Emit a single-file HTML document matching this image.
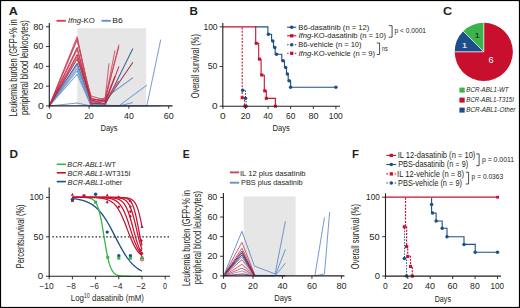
<!DOCTYPE html>
<html><head><meta charset="utf-8"><style>
html,body{margin:0;padding:0;background:#fff;overflow:hidden;}
svg{display:block;font-family:"Liberation Sans", sans-serif;}
</style></head><body>
<svg width="520" height="308" viewBox="0 0 520 308">
<rect x="0" y="0" width="520" height="308" fill="#fff"/>
<rect x="77.3" y="28.2" width="68.9" height="77.70" fill="#e6e6e6"/>
<line x1="56.50" y1="20.80" x2="65.80" y2="20.80" stroke="#d0435a" stroke-width="1.9"/>
<line x1="101.50" y1="20.80" x2="110.80" y2="20.80" stroke="#6590cb" stroke-width="1.9"/>
<polyline points="49.30,105.90 77.16,63.37 91.09,102.93 105.02,104.91 132.88,48.54" fill="none" stroke="#1c4f89" stroke-width="1.05" stroke-linejoin="round" stroke-opacity="0.85"/>
<polyline points="49.30,105.90 77.16,65.35 91.09,104.91 105.02,97.99 132.88,77.71" fill="none" stroke="#6590cb" stroke-width="1.05" stroke-linejoin="round" stroke-opacity="0.85"/>
<polyline points="49.30,105.90 77.16,68.32 91.09,103.92 118.95,105.90 146.81,85.13" fill="none" stroke="#6590cb" stroke-width="1.05" stroke-linejoin="round" stroke-opacity="0.85"/>
<polyline points="49.30,105.90 77.16,70.79 91.09,105.90 118.95,105.90 132.88,102.44" fill="none" stroke="#6590cb" stroke-width="1.05" stroke-linejoin="round" stroke-opacity="0.85"/>
<polyline points="49.30,105.90 77.16,74.25 91.09,105.90 146.81,105.90 160.74,39.64" fill="none" stroke="#6590cb" stroke-width="1.05" stroke-linejoin="round" stroke-opacity="0.85"/>
<polyline points="49.30,105.90 77.16,102.93 91.09,105.90 160.74,105.90" fill="none" stroke="#6590cb" stroke-width="1.05" stroke-linejoin="round" stroke-opacity="0.85"/>
<polyline points="49.30,105.90 77.16,36.67 91.09,102.93 105.02,100.96 118.95,44.58" fill="none" stroke="#d0435a" stroke-width="1.05" stroke-linejoin="round" stroke-opacity="0.85"/>
<polyline points="49.30,105.90 77.16,38.65 91.09,100.96 105.02,97.99 118.95,46.56" fill="none" stroke="#d0435a" stroke-width="1.05" stroke-linejoin="round" stroke-opacity="0.85"/>
<polyline points="49.30,105.90 77.16,40.13 91.09,97.99 105.02,101.94 114.97,50.52" fill="none" stroke="#d0435a" stroke-width="1.05" stroke-linejoin="round" stroke-opacity="0.85"/>
<polyline points="49.30,105.90 77.16,47.55 91.09,103.92 105.02,102.93 132.88,62.38" fill="none" stroke="#8a2a4a" stroke-width="1.05" stroke-linejoin="round" stroke-opacity="0.85"/>
<polyline points="49.30,105.90 77.16,49.53 91.09,96.01 105.02,99.97 109.00,63.37" fill="none" stroke="#d0435a" stroke-width="1.05" stroke-linejoin="round" stroke-opacity="0.85"/>
<polyline points="49.30,105.90 77.16,54.47 91.09,99.97 105.02,103.92 118.95,66.34" fill="none" stroke="#c8102e" stroke-width="1.05" stroke-linejoin="round" stroke-opacity="0.85"/>
<polyline points="49.30,105.90 77.16,56.45 91.09,101.94 105.02,99.97 118.95,81.18" fill="none" stroke="#d0435a" stroke-width="1.05" stroke-linejoin="round" stroke-opacity="0.85"/>
<polyline points="49.30,105.90 77.16,58.92 91.09,98.98 105.02,100.96 114.97,76.23" fill="none" stroke="#b0203a" stroke-width="1.05" stroke-linejoin="round" stroke-opacity="0.85"/>
<line x1="49.30" y1="22.90" x2="49.30" y2="106.50" stroke="#231f20" stroke-width="1.1"/>
<line x1="48.80" y1="105.90" x2="172.60" y2="105.90" stroke="#231f20" stroke-width="1.1"/>
<line x1="46.00" y1="105.90" x2="49.30" y2="105.90" stroke="#231f20" stroke-width="0.9"/>
<line x1="46.00" y1="86.12" x2="49.30" y2="86.12" stroke="#231f20" stroke-width="0.9"/>
<line x1="46.00" y1="66.34" x2="49.30" y2="66.34" stroke="#231f20" stroke-width="0.9"/>
<line x1="46.00" y1="46.56" x2="49.30" y2="46.56" stroke="#231f20" stroke-width="0.9"/>
<line x1="46.00" y1="26.78" x2="49.30" y2="26.78" stroke="#231f20" stroke-width="0.9"/>
<line x1="49.30" y1="105.90" x2="49.30" y2="108.70" stroke="#231f20" stroke-width="0.9"/>
<line x1="89.10" y1="105.90" x2="89.10" y2="108.70" stroke="#231f20" stroke-width="0.9"/>
<line x1="128.90" y1="105.90" x2="128.90" y2="108.70" stroke="#231f20" stroke-width="0.9"/>
<line x1="168.70" y1="105.90" x2="168.70" y2="108.70" stroke="#231f20" stroke-width="0.9"/>
<text x="8.82" y="15.00" font-size="10.8" font-weight="bold" font-style="normal" fill="#231f20" textLength="9.09" lengthAdjust="spacingAndGlyphs">A</text>
<text x="68.12" y="23.40" font-size="8.0" font-weight="normal" font-style="normal" fill="#231f20" textLength="26.56" lengthAdjust="spacingAndGlyphs"><tspan font-style="italic">Ifng</tspan>-KO</text>
<text x="112.32" y="23.40" font-size="8.0" font-weight="normal" font-style="normal" fill="#231f20" textLength="10.52" lengthAdjust="spacingAndGlyphs">B6</text>
<text x="38.02" y="108.75" font-size="8.2" font-weight="normal" font-style="normal" fill="#231f20" textLength="5.87" lengthAdjust="spacingAndGlyphs">0</text>
<text x="33.22" y="88.97" font-size="8.2" font-weight="normal" font-style="normal" fill="#231f20" textLength="10.27" lengthAdjust="spacingAndGlyphs">20</text>
<text x="33.21" y="69.19" font-size="8.2" font-weight="normal" font-style="normal" fill="#231f20" textLength="10.28" lengthAdjust="spacingAndGlyphs">40</text>
<text x="33.18" y="49.41" font-size="8.2" font-weight="normal" font-style="normal" fill="#231f20" textLength="10.31" lengthAdjust="spacingAndGlyphs">60</text>
<text x="33.18" y="29.63" font-size="8.2" font-weight="normal" font-style="normal" fill="#231f20" textLength="10.31" lengthAdjust="spacingAndGlyphs">80</text>
<text x="46.25" y="118.50" font-size="8.2" font-weight="normal" font-style="normal" fill="#231f20" textLength="5.59" lengthAdjust="spacingAndGlyphs">0</text>
<text x="84.30" y="118.50" font-size="8.2" font-weight="normal" font-style="normal" fill="#231f20" textLength="9.43" lengthAdjust="spacingAndGlyphs">20</text>
<text x="124.09" y="118.50" font-size="8.2" font-weight="normal" font-style="normal" fill="#231f20" textLength="9.74" lengthAdjust="spacingAndGlyphs">40</text>
<text x="163.77" y="118.50" font-size="8.2" font-weight="normal" font-style="normal" fill="#231f20" textLength="9.94" lengthAdjust="spacingAndGlyphs">60</text>
<text x="100.46" y="131.10" font-size="9.6" font-weight="normal" font-style="normal" fill="#231f20" textLength="17.19" lengthAdjust="spacingAndGlyphs">Days</text>
<text x="0" y="0" font-size="10.5" fill="#231f20" textLength="97.08" lengthAdjust="spacingAndGlyphs" transform="matrix(0,-1,1,0,17.10,116.39)">Leukemia burden (GFP+% in</text>
<text x="0" y="0" font-size="10.5" fill="#231f20" textLength="94.90" lengthAdjust="spacingAndGlyphs" transform="matrix(0,-1,1,0,28.20,115.09)">peripheral blood leukocytes)</text>
<path d="M242.9,90.2 H245.5 V98.2 H246.1 V106.2" fill="none" stroke="#1c4f89" stroke-width="1.0" stroke-dasharray="1.5,1.3"/>
<path d="M242.2,27.45 V97.7 H244.6 V106.2" fill="none" stroke="#c8102e" stroke-width="1.1" stroke-dasharray="2.0,1.4"/>
<path d="M255.0,26.85 H267.9 V34.3 H271.6 V40.9 H273.5 V47.6 H275.2 V54.2 H281.8 V60.8 H284.5 V67.5 H286.5 V74.1 H288.2 V80.7 H290.6 V87.3 H335.90" fill="none" stroke="#1c4f89" stroke-width="1.1"/>
<path d="M222.90,26.85 H255.7 V43.4 H258.7 V59.3 H261.1 V75.2 H264.3 V91.1 H266.3 V98.4 H275.4 V106.2" fill="none" stroke="#c8102e" stroke-width="1.1"/>
<circle cx="268.40" cy="34.30" r="1.75" fill="#1c4f89"/>
<circle cx="272.80" cy="40.90" r="1.75" fill="#1c4f89"/>
<circle cx="274.80" cy="47.60" r="1.75" fill="#1c4f89"/>
<circle cx="276.50" cy="54.20" r="1.75" fill="#1c4f89"/>
<circle cx="283.00" cy="60.80" r="1.75" fill="#1c4f89"/>
<circle cx="285.70" cy="67.50" r="1.75" fill="#1c4f89"/>
<circle cx="287.40" cy="74.10" r="1.75" fill="#1c4f89"/>
<circle cx="289.10" cy="80.70" r="1.75" fill="#1c4f89"/>
<circle cx="290.60" cy="87.30" r="1.75" fill="#1c4f89"/>
<circle cx="335.90" cy="87.30" r="1.75" fill="#1c4f89"/>
<rect x="254.65" y="41.75" width="3.1" height="3.1" fill="#c8102e"/>
<rect x="257.85" y="57.55" width="3.1" height="3.1" fill="#c8102e"/>
<rect x="260.25" y="73.45" width="3.1" height="3.1" fill="#c8102e"/>
<rect x="263.25" y="89.25" width="3.1" height="3.1" fill="#c8102e"/>
<rect x="264.75" y="96.75" width="3.1" height="3.1" fill="#c8102e"/>
<rect x="273.85" y="104.65" width="3.1" height="3.1" fill="#c8102e"/>
<circle cx="242.70" cy="90.20" r="1.75" fill="#1c4f89"/>
<circle cx="245.50" cy="98.20" r="1.75" fill="#1c4f89"/>
<circle cx="246.10" cy="106.20" r="1.75" fill="#1c4f89"/>
<rect x="240.65" y="96.15" width="3.1" height="3.1" fill="#c8102e"/>
<rect x="243.45" y="104.65" width="3.1" height="3.1" fill="#c8102e"/>
<line x1="222.80" y1="22.90" x2="222.80" y2="106.80" stroke="#231f20" stroke-width="1.1"/>
<line x1="222.30" y1="106.20" x2="340.00" y2="106.20" stroke="#231f20" stroke-width="1.1"/>
<line x1="219.60" y1="106.20" x2="222.80" y2="106.20" stroke="#231f20" stroke-width="0.9"/>
<line x1="219.60" y1="66.53" x2="222.80" y2="66.53" stroke="#231f20" stroke-width="0.9"/>
<line x1="219.60" y1="26.85" x2="222.80" y2="26.85" stroke="#231f20" stroke-width="0.9"/>
<line x1="222.90" y1="106.20" x2="222.90" y2="109.00" stroke="#231f20" stroke-width="0.9"/>
<line x1="245.50" y1="106.20" x2="245.50" y2="109.00" stroke="#231f20" stroke-width="0.9"/>
<line x1="268.10" y1="106.20" x2="268.10" y2="109.00" stroke="#231f20" stroke-width="0.9"/>
<line x1="290.70" y1="106.20" x2="290.70" y2="109.00" stroke="#231f20" stroke-width="0.9"/>
<line x1="313.30" y1="106.20" x2="313.30" y2="109.00" stroke="#231f20" stroke-width="0.9"/>
<line x1="335.90" y1="106.20" x2="335.90" y2="109.00" stroke="#231f20" stroke-width="0.9"/>
<line x1="287.10" y1="27.20" x2="296.30" y2="27.20" stroke="#1c4f89" stroke-width="1.1"/>
<circle cx="291.70" cy="27.20" r="1.8" fill="#1c4f89"/>
<line x1="287.10" y1="35.80" x2="296.30" y2="35.80" stroke="#c8102e" stroke-width="1.1"/>
<rect x="290.05" y="34.15" width="3.3" height="3.3" fill="#c8102e"/>
<line x1="287.10" y1="44.70" x2="288.60" y2="44.70" stroke="#1c4f89" stroke-width="1.1"/>
<line x1="294.80" y1="44.70" x2="296.30" y2="44.70" stroke="#1c4f89" stroke-width="1.1"/>
<circle cx="291.70" cy="44.70" r="1.8" fill="#1c4f89"/>
<line x1="287.10" y1="53.30" x2="288.60" y2="53.30" stroke="#c8102e" stroke-width="1.1"/>
<line x1="294.80" y1="53.30" x2="296.30" y2="53.30" stroke="#c8102e" stroke-width="1.1"/>
<rect x="290.05" y="51.65" width="3.3" height="3.3" fill="#c8102e"/>
<path d="M388.8,25.7 H392.1 V37.2 H388.8" fill="none" stroke="#231f20" stroke-width="0.8"/>
<path d="M376.8,43.0 H379.6 V54.5 H376.8" fill="none" stroke="#231f20" stroke-width="0.8"/>
<text x="189.41" y="15.00" font-size="10.8" font-weight="bold" font-style="normal" fill="#231f20" textLength="8.42" lengthAdjust="spacingAndGlyphs">B</text>
<text x="212.08" y="109.05" font-size="8.2" font-weight="normal" font-style="normal" fill="#231f20" textLength="5.57" lengthAdjust="spacingAndGlyphs">0</text>
<text x="207.75" y="69.38" font-size="8.2" font-weight="normal" font-style="normal" fill="#231f20" textLength="9.63" lengthAdjust="spacingAndGlyphs">50</text>
<text x="203.49" y="29.70" font-size="8.2" font-weight="normal" font-style="normal" fill="#231f20" textLength="14.09" lengthAdjust="spacingAndGlyphs">100</text>
<text x="220.01" y="118.90" font-size="8.2" font-weight="normal" font-style="normal" fill="#231f20" textLength="5.61" lengthAdjust="spacingAndGlyphs">0</text>
<text x="240.75" y="118.90" font-size="8.2" font-weight="normal" font-style="normal" fill="#231f20" textLength="9.71" lengthAdjust="spacingAndGlyphs">20</text>
<text x="263.21" y="118.90" font-size="8.2" font-weight="normal" font-style="normal" fill="#231f20" textLength="9.47" lengthAdjust="spacingAndGlyphs">40</text>
<text x="285.98" y="118.90" font-size="8.2" font-weight="normal" font-style="normal" fill="#231f20" textLength="9.35" lengthAdjust="spacingAndGlyphs">60</text>
<text x="308.58" y="118.90" font-size="8.2" font-weight="normal" font-style="normal" fill="#231f20" textLength="10.08" lengthAdjust="spacingAndGlyphs">80</text>
<text x="328.69" y="118.90" font-size="8.2" font-weight="normal" font-style="normal" fill="#231f20" textLength="14.16" lengthAdjust="spacingAndGlyphs">100</text>
<text x="272.52" y="130.60" font-size="9.6" font-weight="normal" font-style="normal" fill="#231f20" textLength="17.32" lengthAdjust="spacingAndGlyphs">Days</text>
<text x="0" y="0" font-size="10.5" fill="#231f20" textLength="64.07" lengthAdjust="spacingAndGlyphs" transform="matrix(0,-1,1,0,198.70,98.21)">Overall survival (%)</text>
<text x="298.30" y="29.60" font-size="8.0" font-weight="normal" font-style="normal" fill="#231f20" textLength="71.08" lengthAdjust="spacingAndGlyphs">B6-dasatinib (n = 12)</text>
<text x="298.50" y="38.30" font-size="8.0" font-weight="normal" font-style="normal" fill="#231f20" textLength="87.57" lengthAdjust="spacingAndGlyphs"><tspan font-style="italic">Ifng</tspan>-KO-dasatinib (n = 10)</text>
<text x="298.14" y="47.20" font-size="8.0" font-weight="normal" font-style="normal" fill="#231f20" textLength="63.43" lengthAdjust="spacingAndGlyphs">B6-vehicle (n = 10)</text>
<text x="298.50" y="55.90" font-size="8.0" font-weight="normal" font-style="normal" fill="#231f20" textLength="76.58" lengthAdjust="spacingAndGlyphs"><tspan font-style="italic">Ifng</tspan>-KO-vehicle (n = 9)</text>
<text x="394.44" y="33.40" font-size="6.3" font-weight="normal" font-style="normal" fill="#231f20" textLength="31.65" lengthAdjust="spacingAndGlyphs">p &lt; 0.0001</text>
<text x="382.05" y="51.10" font-size="6.3" font-weight="normal" font-style="normal" fill="#231f20" textLength="5.73" lengthAdjust="spacingAndGlyphs">ns</text>
<path d="M483.8,51.85 L454.70,51.85 A29.1,29.1 0 1 0 483.80,22.75 Z" fill="#c8102e"/>
<path d="M483.8,51.85 L483.80,22.75 A29.1,29.1 0 0 0 463.22,31.27 Z" fill="#3bb54a"/>
<path d="M483.8,51.85 L463.22,31.27 A29.1,29.1 0 0 0 454.70,51.85 Z" fill="#1c4f89"/>
<line x1="483.80" y1="51.85" x2="483.80" y2="22.75" stroke="#ffffff" stroke-width="0.7"/>
<line x1="483.80" y1="51.85" x2="463.22" y2="31.27" stroke="#ffffff" stroke-width="0.7"/>
<line x1="483.80" y1="51.85" x2="454.70" y2="51.85" stroke="#ffffff" stroke-width="0.7"/>
<rect x="459.4" y="87.6" width="5.3" height="5.0" fill="#3bb54a"/>
<rect x="459.4" y="97.6" width="5.3" height="5.0" fill="#c8102e"/>
<rect x="459.4" y="107.6" width="5.3" height="5.0" fill="#1c4f89"/>
<text x="442.98" y="15.00" font-size="10.8" font-weight="bold" font-style="normal" fill="#231f20" textLength="9.09" lengthAdjust="spacingAndGlyphs">C</text>
<text x="474.25" y="37.60" font-size="7.8" font-weight="normal" font-style="normal" fill="#231f20" textLength="5.95" lengthAdjust="spacingAndGlyphs">1</text>
<text x="461.72" y="47.80" font-size="7.8" font-weight="normal" font-style="normal" fill="#ffffff" textLength="5.63" lengthAdjust="spacingAndGlyphs">1</text>
<text x="488.49" y="63.40" font-size="8.4" font-weight="normal" font-style="normal" fill="#ffffff" textLength="5.06" lengthAdjust="spacingAndGlyphs">6</text>
<text x="466.37" y="92.30" font-size="6.8" font-weight="normal" font-style="italic" fill="#231f20" textLength="42.31" lengthAdjust="spacingAndGlyphs">BCR-ABL1-WT</text>
<text x="466.37" y="102.30" font-size="6.8" font-weight="normal" font-style="italic" fill="#231f20" textLength="47.61" lengthAdjust="spacingAndGlyphs">BCR-ABL1-T315I</text>
<text x="466.19" y="112.30" font-size="6.8" font-weight="normal" font-style="italic" fill="#231f20" textLength="49.25" lengthAdjust="spacingAndGlyphs">BCR-ABL1-Other</text>
<line x1="56.75" y1="164.30" x2="65.90" y2="164.30" stroke="#3bb54a" stroke-width="1.6"/>
<line x1="56.75" y1="172.80" x2="65.90" y2="172.80" stroke="#c8102e" stroke-width="1.6"/>
<line x1="56.75" y1="181.60" x2="65.90" y2="181.60" stroke="#1c4f89" stroke-width="1.6"/>
<line x1="52.30" y1="236.85" x2="170.00" y2="236.85" stroke="#231f20" stroke-width="1.15" stroke-dasharray="1.5,2.1"/>
<polyline points="72.40,198.50 73.56,198.63 74.72,198.78 75.88,198.94 77.04,199.13 78.20,199.33 79.36,199.56 80.52,199.82 81.68,200.10 82.84,200.42 84.00,200.77 85.16,201.17 86.32,201.60 87.48,202.08 88.64,202.62 89.80,203.21 90.96,203.86 92.12,204.57 93.28,205.36 94.44,206.22 95.60,207.17 96.76,208.19 97.92,209.31 99.08,210.52 100.24,211.83 101.40,213.24 102.56,214.75 103.72,216.36 104.88,218.06 106.04,219.87 107.20,221.76 108.36,223.74 109.52,225.80 110.68,227.92 111.84,230.10 113.00,232.33 114.16,234.58 115.32,236.85 116.48,239.12 117.64,241.37 118.80,243.60 119.96,245.78 121.12,247.90 122.28,249.96 123.44,251.94 124.60,253.83 125.76,255.64 126.92,257.34 128.08,258.95 129.24,260.46 130.40,261.87 131.56,263.18 132.72,264.39 133.88,265.51 135.04,266.53 136.20,267.48 137.36,268.34 138.52,269.13 139.68,269.84 140.84,270.49 142.00,271.08" fill="none" stroke="#1c4f89" stroke-width="1.3" stroke-linejoin="round"/>
<polyline points="84.00,197.53 84.97,197.58 85.93,197.65 86.90,197.74 87.87,197.86 88.83,198.02 89.80,198.24 90.77,198.54 91.73,198.94 92.70,199.48 93.67,200.20 94.63,201.15 95.60,202.42 96.57,204.07 97.53,206.20 98.50,208.90 99.47,212.25 100.43,216.31 101.40,221.07 102.37,226.44 103.33,232.27 104.30,238.30 105.27,244.27 106.23,249.90 107.20,255.00 108.17,259.43 109.13,263.14 110.10,266.17 111.07,268.59 112.03,270.48 113.00,271.93 113.97,273.04 114.93,273.87 115.90,274.50 116.87,274.97 117.83,275.32 118.80,275.57 119.77,275.76 120.73,275.91 121.70,276.01 122.67,276.09 123.63,276.14 124.60,276.18 125.57,276.21 126.53,276.24 127.50,276.25 128.47,276.27 129.43,276.27 130.40,276.28 131.37,276.29 132.33,276.29 133.30,276.29 134.27,276.29 135.23,276.30 136.20,276.30 137.17,276.30 138.13,276.30 139.10,276.30 140.07,276.30 141.03,276.30 142.00,276.30" fill="none" stroke="#3bb54a" stroke-width="1.3" stroke-linejoin="round"/>
<polyline points="72.40,197.41 73.56,197.41 74.72,197.41 75.88,197.41 77.04,197.41 78.20,197.42 79.36,197.42 80.52,197.43 81.68,197.43 82.84,197.44 84.00,197.45 85.16,197.46 86.32,197.47 87.48,197.48 88.64,197.50 89.80,197.52 90.96,197.55 92.12,197.58 93.28,197.62 94.44,197.67 95.60,197.73 96.76,197.80 97.92,197.88 99.08,197.98 100.24,198.10 101.40,198.25 102.56,198.43 103.72,198.64 104.88,198.90 106.04,199.21 107.20,199.59 108.36,200.04 109.52,200.57 110.68,201.21 111.84,201.96 113.00,202.85 114.16,203.89 115.32,205.11 116.48,206.51 117.64,208.13 118.80,209.96 119.96,212.02 121.12,214.30 122.28,216.80 123.44,219.49 124.60,222.34 125.76,225.31 126.92,228.35 128.08,231.40 129.24,234.40 130.40,237.30 131.56,240.06 132.72,242.64 133.88,245.01 135.04,247.16 136.20,249.09 137.36,250.79 138.52,252.28 139.68,253.57 140.84,254.68 142.00,255.62" fill="none" stroke="#c8102e" stroke-width="1.25" stroke-linejoin="round"/>
<polyline points="72.40,197.40 73.56,197.40 74.72,197.40 75.88,197.40 77.04,197.40 78.20,197.40 79.36,197.40 80.52,197.40 81.68,197.40 82.84,197.41 84.00,197.41 85.16,197.41 86.32,197.41 87.48,197.41 88.64,197.42 89.80,197.42 90.96,197.43 92.12,197.43 93.28,197.44 94.44,197.45 95.60,197.46 96.76,197.48 97.92,197.50 99.08,197.53 100.24,197.56 101.40,197.60 102.56,197.65 103.72,197.71 104.88,197.80 106.04,197.90 107.20,198.02 108.36,198.18 109.52,198.38 110.68,198.63 111.84,198.95 113.00,199.33 114.16,199.82 115.32,200.41 116.48,201.15 117.64,202.04 118.80,203.14 119.96,204.46 121.12,206.04 122.28,207.90 123.44,210.07 124.60,212.56 125.76,215.37 126.92,218.47 128.08,221.82 129.24,225.34 130.40,228.96 131.56,232.58 132.72,236.10 133.88,239.45 135.04,242.55 136.20,245.36 137.36,247.85 138.52,250.02 139.68,251.88 140.84,253.46 142.00,254.78" fill="none" stroke="#c8102e" stroke-width="1.25" stroke-linejoin="round"/>
<polyline points="72.40,197.40 73.56,197.40 74.72,197.40 75.88,197.40 77.04,197.40 78.20,197.40 79.36,197.40 80.52,197.40 81.68,197.40 82.84,197.40 84.00,197.40 85.16,197.40 86.32,197.40 87.48,197.40 88.64,197.40 89.80,197.40 90.96,197.40 92.12,197.40 93.28,197.40 94.44,197.41 95.60,197.41 96.76,197.41 97.92,197.41 99.08,197.42 100.24,197.42 101.40,197.43 102.56,197.44 103.72,197.45 104.88,197.47 106.04,197.50 107.20,197.53 108.36,197.57 109.52,197.62 110.68,197.69 111.84,197.78 113.00,197.90 114.16,198.05 115.32,198.26 116.48,198.53 117.64,198.88 118.80,199.33 119.96,199.93 121.12,200.69 122.28,201.66 123.44,202.90 124.60,204.46 125.76,206.38 126.92,208.73 128.08,211.53 129.24,214.79 130.40,218.47 131.56,222.51 132.72,226.78 133.88,231.14 135.04,235.41 136.20,239.45 137.36,243.13 138.52,246.39 139.68,249.19 140.84,251.54 142.00,253.46" fill="none" stroke="#c8102e" stroke-width="1.25" stroke-linejoin="round"/>
<polyline points="72.40,197.40 73.56,197.40 74.72,197.40 75.88,197.40 77.04,197.40 78.20,197.40 79.36,197.40 80.52,197.40 81.68,197.40 82.84,197.40 84.00,197.40 85.16,197.40 86.32,197.40 87.48,197.40 88.64,197.40 89.80,197.40 90.96,197.40 92.12,197.40 93.28,197.40 94.44,197.40 95.60,197.40 96.76,197.40 97.92,197.40 99.08,197.40 100.24,197.40 101.40,197.40 102.56,197.41 103.72,197.41 104.88,197.41 106.04,197.41 107.20,197.42 108.36,197.43 109.52,197.44 110.68,197.45 111.84,197.47 113.00,197.50 114.16,197.54 115.32,197.59 116.48,197.66 117.64,197.75 118.80,197.88 119.96,198.06 121.12,198.31 122.28,198.65 123.44,199.10 124.60,199.72 125.76,200.56 126.92,201.67 128.08,203.13 129.24,205.03 130.40,207.45 131.56,210.45 132.72,214.08 133.88,218.29 135.04,222.97 136.20,227.95 137.36,232.98 138.52,237.81 139.68,242.23 140.84,246.09 142.00,249.34" fill="none" stroke="#c8102e" stroke-width="1.25" stroke-linejoin="round"/>
<polyline points="72.40,197.40 73.56,197.40 74.72,197.40 75.88,197.40 77.04,197.40 78.20,197.40 79.36,197.40 80.52,197.40 81.68,197.40 82.84,197.40 84.00,197.40 85.16,197.40 86.32,197.40 87.48,197.40 88.64,197.40 89.80,197.40 90.96,197.40 92.12,197.40 93.28,197.40 94.44,197.40 95.60,197.40 96.76,197.40 97.92,197.40 99.08,197.40 100.24,197.40 101.40,197.40 102.56,197.40 103.72,197.40 104.88,197.40 106.04,197.40 107.20,197.40 108.36,197.40 109.52,197.40 110.68,197.41 111.84,197.41 113.00,197.41 114.16,197.42 115.32,197.43 116.48,197.44 117.64,197.45 118.80,197.48 119.96,197.52 121.12,197.58 122.28,197.66 123.44,197.79 124.60,197.97 125.76,198.24 126.92,198.63 128.08,199.21 129.24,200.04 130.40,201.23 131.56,202.90 132.72,205.21 133.88,208.31 135.04,212.30 136.20,217.20 137.36,222.86 138.52,228.96 139.68,235.06 140.84,240.72 142.00,245.62" fill="none" stroke="#c8102e" stroke-width="1.25" stroke-linejoin="round"/>
<polyline points="72.40,197.40 73.56,197.40 74.72,197.40 75.88,197.40 77.04,197.40 78.20,197.40 79.36,197.40 80.52,197.40 81.68,197.40 82.84,197.40 84.00,197.40 85.16,197.40 86.32,197.40 87.48,197.40 88.64,197.40 89.80,197.40 90.96,197.40 92.12,197.40 93.28,197.40 94.44,197.40 95.60,197.40 96.76,197.40 97.92,197.40 99.08,197.40 100.24,197.40 101.40,197.40 102.56,197.40 103.72,197.40 104.88,197.40 106.04,197.40 107.20,197.40 108.36,197.40 109.52,197.40 110.68,197.40 111.84,197.41 113.00,197.41 114.16,197.41 115.32,197.42 116.48,197.42 117.64,197.43 118.80,197.45 119.96,197.47 121.12,197.49 122.28,197.53 123.44,197.59 124.60,197.66 125.76,197.77 126.92,197.92 128.08,198.14 129.24,198.44 130.40,198.86 131.56,199.44 132.72,200.26 133.88,201.38 135.04,202.90 136.20,204.96 137.36,207.67 138.52,211.17 139.68,215.54 140.84,220.80 142.00,226.85" fill="none" stroke="#c8102e" stroke-width="1.2" stroke-linejoin="round"/>
<path d="M70.80,195.68 L74.00,195.68 L72.40,192.80 Z" fill="#c8102e"/>
<path d="M105.60,196.47 L108.80,196.47 L107.20,193.59 Z" fill="#c8102e"/>
<path d="M117.20,198.05 L120.40,198.05 L118.80,195.17 Z" fill="#c8102e"/>
<path d="M140.40,228.03 L143.60,228.03 L142.00,225.15 Z" fill="#c8102e"/>
<path d="M128.90,201.91 L131.90,201.91 L130.40,199.21 Z" fill="#c8102e"/>
<rect x="82.50" y="194.32" width="3.0" height="3.0" fill="#c8102e"/>
<rect x="71.00" y="199.16" width="2.8" height="2.8" fill="#c8102e"/>
<path d="M105.70,202.13 L107.20,200.43 L108.70,202.13 L107.20,203.83 Z" fill="#c8102e"/>
<path d="M117.30,206.87 L118.80,205.17 L120.30,206.87 L118.80,208.57 Z" fill="#c8102e"/>
<path d="M128.90,206.87 L130.40,205.17 L131.90,206.87 L130.40,208.57 Z" fill="#c8102e"/>
<path d="M128.90,211.60 L130.40,209.90 L131.90,211.60 L130.40,213.30 Z" fill="#c8102e"/>
<path d="M128.90,216.34 L130.40,214.64 L131.90,216.34 L130.40,218.04 Z" fill="#c8102e"/>
<path d="M139.92,240.80 L141.42,239.10 L142.92,240.80 L141.42,242.50 Z" fill="#c8102e"/>
<path d="M139.34,250.26 L140.84,248.56 L142.34,250.26 L140.84,251.96 Z" fill="#c8102e"/>
<path d="M140.50,257.36 L142.00,255.66 L143.50,257.36 L142.00,259.06 Z" fill="#c8102e"/>
<path d="M140.50,253.42 L142.00,251.72 L143.50,253.42 L142.00,255.12 Z" fill="#c8102e"/>
<circle cx="142.00" cy="259.34" r="1.7" fill="none" stroke="#c8102e" stroke-width="0.8"/>
<circle cx="95.60" cy="194.24" r="1.7" fill="#1c4f89"/>
<circle cx="107.20" cy="232.12" r="1.7" fill="#1c4f89"/>
<circle cx="118.80" cy="255.79" r="1.7" fill="#1c4f89"/>
<circle cx="130.40" cy="255.79" r="1.7" fill="#1c4f89"/>
<circle cx="72.40" cy="199.37" r="1.7" fill="#1c4f89"/>
<rect x="94.10" y="200.63" width="3.0" height="3.0" fill="#3bb54a"/>
<rect x="117.30" y="256.65" width="3.0" height="3.0" fill="#3bb54a"/>
<rect x="128.90" y="256.65" width="3.0" height="3.0" fill="#3bb54a"/>
<rect x="140.50" y="256.65" width="3.0" height="3.0" fill="#3bb54a"/>
<rect x="106.28" y="255.86" width="3.0" height="3.0" fill="#3bb54a"/>
<line x1="49.20" y1="187.40" x2="49.20" y2="276.90" stroke="#231f20" stroke-width="1.1"/>
<line x1="48.70" y1="276.30" x2="170.00" y2="276.30" stroke="#231f20" stroke-width="1.1"/>
<line x1="46.00" y1="276.30" x2="49.20" y2="276.30" stroke="#231f20" stroke-width="0.9"/>
<line x1="46.00" y1="236.85" x2="49.20" y2="236.85" stroke="#231f20" stroke-width="0.9"/>
<line x1="46.00" y1="197.40" x2="49.20" y2="197.40" stroke="#231f20" stroke-width="0.9"/>
<line x1="49.20" y1="276.30" x2="49.20" y2="279.30" stroke="#231f20" stroke-width="0.9"/>
<line x1="72.40" y1="276.30" x2="72.40" y2="279.30" stroke="#231f20" stroke-width="0.9"/>
<line x1="95.60" y1="276.30" x2="95.60" y2="279.30" stroke="#231f20" stroke-width="0.9"/>
<line x1="118.80" y1="276.30" x2="118.80" y2="279.30" stroke="#231f20" stroke-width="0.9"/>
<line x1="142.00" y1="276.30" x2="142.00" y2="279.30" stroke="#231f20" stroke-width="0.9"/>
<line x1="165.20" y1="276.30" x2="165.20" y2="279.30" stroke="#231f20" stroke-width="0.9"/>
<text x="9.42" y="157.60" font-size="10.8" font-weight="bold" font-style="normal" fill="#231f20" textLength="8.52" lengthAdjust="spacingAndGlyphs">D</text>
<text x="67.37" y="167.30" font-size="7.6" font-weight="normal" font-style="normal" fill="#231f20" textLength="48.64" lengthAdjust="spacingAndGlyphs"><tspan font-style="italic">BCR-ABL1</tspan>-WT</text>
<text x="67.56" y="175.80" font-size="7.6" font-weight="normal" font-style="normal" fill="#231f20" textLength="62.89" lengthAdjust="spacingAndGlyphs"><tspan font-style="italic">BCR-ABL1</tspan>-WT315I</text>
<text x="67.58" y="184.50" font-size="7.6" font-weight="normal" font-style="normal" fill="#231f20" textLength="54.62" lengthAdjust="spacingAndGlyphs"><tspan font-style="italic">BCR-ABL1</tspan>-other</text>
<text x="37.89" y="279.15" font-size="8.2" font-weight="normal" font-style="normal" fill="#231f20" textLength="5.43" lengthAdjust="spacingAndGlyphs">0</text>
<text x="33.59" y="239.70" font-size="8.2" font-weight="normal" font-style="normal" fill="#231f20" textLength="9.89" lengthAdjust="spacingAndGlyphs">50</text>
<text x="29.47" y="200.25" font-size="8.2" font-weight="normal" font-style="normal" fill="#231f20" textLength="14.02" lengthAdjust="spacingAndGlyphs">100</text>
<text x="39.45" y="288.70" font-size="8.2" font-weight="normal" font-style="normal" fill="#231f20" textLength="14.32" lengthAdjust="spacingAndGlyphs">&#8722;10</text>
<text x="66.48" y="288.70" font-size="8.2" font-weight="normal" font-style="normal" fill="#231f20" textLength="9.40" lengthAdjust="spacingAndGlyphs">&#8722;8</text>
<text x="89.98" y="288.70" font-size="8.2" font-weight="normal" font-style="normal" fill="#231f20" textLength="8.94" lengthAdjust="spacingAndGlyphs">&#8722;6</text>
<text x="113.12" y="288.70" font-size="8.2" font-weight="normal" font-style="normal" fill="#231f20" textLength="9.32" lengthAdjust="spacingAndGlyphs">&#8722;4</text>
<text x="136.17" y="288.70" font-size="8.2" font-weight="normal" font-style="normal" fill="#231f20" textLength="9.59" lengthAdjust="spacingAndGlyphs">&#8722;2</text>
<text x="163.12" y="288.70" font-size="8.2" font-weight="normal" font-style="normal" fill="#231f20" textLength="3.98" lengthAdjust="spacingAndGlyphs">0</text>
<text x="70.77" y="301.20" font-size="9.6" font-weight="normal" font-style="normal" fill="#231f20" textLength="73.18" lengthAdjust="spacingAndGlyphs">Log<tspan font-size="6.6" dy="-3.3">10</tspan><tspan dy="3.3"> dasatinib (mM)</tspan></text>
<text x="0" y="0" font-size="10.5" fill="#231f20" textLength="63.52" lengthAdjust="spacingAndGlyphs" transform="matrix(0,-1,1,0,24.10,268.15)">Percentsurvival (%)</text>
<rect x="243.7" y="196.4" width="51.9" height="79.50" fill="#e6e6e6"/>
<line x1="229.90" y1="172.40" x2="239.20" y2="172.40" stroke="#d0435a" stroke-width="1.9"/>
<line x1="229.90" y1="182.70" x2="239.20" y2="182.70" stroke="#6590cb" stroke-width="1.9"/>
<polyline points="223.50,275.90 241.93,271.00 254.45,275.90 275.09,275.90" fill="none" stroke="#6590cb" stroke-width="0.9" stroke-linejoin="round" stroke-opacity="0.9"/>
<polyline points="223.50,275.90 241.93,274.43 254.45,275.90 275.09,275.90" fill="none" stroke="#6590cb" stroke-width="0.9" stroke-linejoin="round" stroke-opacity="0.9"/>
<polyline points="223.50,275.90 241.93,256.77 254.45,275.41 275.09,275.41 285.41,275.90" fill="none" stroke="#6590cb" stroke-width="1.0" stroke-linejoin="round" stroke-opacity="0.9"/>
<polyline points="223.50,275.90 241.93,242.25 255.19,275.90" fill="none" stroke="#d23a55" stroke-width="0.95" stroke-linejoin="round" stroke-opacity="0.9"/>
<polyline points="223.50,275.90 241.93,248.24 255.19,275.90" fill="none" stroke="#d23a55" stroke-width="0.95" stroke-linejoin="round" stroke-opacity="0.9"/>
<polyline points="223.50,275.90 241.93,259.62 255.19,275.90" fill="none" stroke="#d23a55" stroke-width="0.95" stroke-linejoin="round" stroke-opacity="0.9"/>
<polyline points="223.50,275.90 241.93,264.32 255.19,275.90" fill="none" stroke="#d23a55" stroke-width="0.95" stroke-linejoin="round" stroke-opacity="0.9"/>
<polyline points="223.50,275.90 241.93,268.15 255.19,275.90" fill="none" stroke="#d23a55" stroke-width="0.95" stroke-linejoin="round" stroke-opacity="0.9"/>
<polyline points="223.50,275.90 241.93,273.84 255.19,275.90" fill="none" stroke="#d23a55" stroke-width="0.95" stroke-linejoin="round" stroke-opacity="0.9"/>
<polyline points="223.50,275.90 241.93,251.08 254.45,275.41" fill="none" stroke="#4b2550" stroke-width="1.0" stroke-linejoin="round" stroke-opacity="0.9"/>
<polyline points="223.50,275.90 241.93,252.94 254.45,275.41" fill="none" stroke="#6a2a55" stroke-width="1.0" stroke-linejoin="round" stroke-opacity="0.9"/>
<polyline points="223.50,275.90 241.93,254.91 254.45,275.41" fill="none" stroke="#3d3f78" stroke-width="1.0" stroke-linejoin="round" stroke-opacity="0.9"/>
<polyline points="254.45,275.41 275.09,275.61 285.41,275.90" fill="none" stroke="#1c4f89" stroke-width="1.0" stroke-linejoin="round"/>
<polyline points="223.50,275.90 241.93,231.26 254.45,266.09 275.09,273.94 285.41,221.16" fill="none" stroke="#6590cb" stroke-width="0.95" stroke-linejoin="round"/>
<polyline points="254.45,275.90 275.09,275.90 285.41,249.41" fill="none" stroke="#6590cb" stroke-width="0.95" stroke-linejoin="round"/>
<polyline points="275.09,275.90 285.41,263.15" fill="none" stroke="#6590cb" stroke-width="0.95" stroke-linejoin="round"/>
<polyline points="314.89,275.90 324.47,217.53" fill="none" stroke="#6590cb" stroke-width="0.9" stroke-linejoin="round"/>
<polyline points="314.89,275.90 324.47,273.94 329.63,212.13" fill="none" stroke="#6590cb" stroke-width="0.9" stroke-linejoin="round"/>
<line x1="223.40" y1="192.90" x2="223.40" y2="276.50" stroke="#231f20" stroke-width="1.1"/>
<line x1="222.90" y1="275.90" x2="344.40" y2="275.90" stroke="#231f20" stroke-width="1.1"/>
<line x1="220.10" y1="275.90" x2="223.40" y2="275.90" stroke="#231f20" stroke-width="0.9"/>
<line x1="220.10" y1="256.28" x2="223.40" y2="256.28" stroke="#231f20" stroke-width="0.9"/>
<line x1="220.10" y1="236.66" x2="223.40" y2="236.66" stroke="#231f20" stroke-width="0.9"/>
<line x1="220.10" y1="217.04" x2="223.40" y2="217.04" stroke="#231f20" stroke-width="0.9"/>
<line x1="220.10" y1="197.42" x2="223.40" y2="197.42" stroke="#231f20" stroke-width="0.9"/>
<line x1="223.50" y1="275.90" x2="223.50" y2="278.80" stroke="#231f20" stroke-width="0.9"/>
<line x1="252.98" y1="275.90" x2="252.98" y2="278.80" stroke="#231f20" stroke-width="0.9"/>
<line x1="282.46" y1="275.90" x2="282.46" y2="278.80" stroke="#231f20" stroke-width="0.9"/>
<line x1="311.94" y1="275.90" x2="311.94" y2="278.80" stroke="#231f20" stroke-width="0.9"/>
<line x1="341.42" y1="275.90" x2="341.42" y2="278.80" stroke="#231f20" stroke-width="0.9"/>
<text x="182.77" y="157.80" font-size="10.8" font-weight="bold" font-style="normal" fill="#231f20" textLength="6.90" lengthAdjust="spacingAndGlyphs">E</text>
<text x="240.01" y="175.60" font-size="8.0" font-weight="normal" font-style="normal" fill="#231f20" textLength="65.61" lengthAdjust="spacingAndGlyphs">IL 12 plus dasatinib</text>
<text x="241.00" y="185.10" font-size="8.0" font-weight="normal" font-style="normal" fill="#231f20" textLength="61.63" lengthAdjust="spacingAndGlyphs">PBS plus dasatinib</text>
<text x="212.10" y="278.75" font-size="8.2" font-weight="normal" font-style="normal" fill="#231f20" textLength="5.61" lengthAdjust="spacingAndGlyphs">0</text>
<text x="207.15" y="259.13" font-size="8.2" font-weight="normal" font-style="normal" fill="#231f20" textLength="10.24" lengthAdjust="spacingAndGlyphs">20</text>
<text x="207.43" y="239.51" font-size="8.2" font-weight="normal" font-style="normal" fill="#231f20" textLength="9.88" lengthAdjust="spacingAndGlyphs">40</text>
<text x="207.51" y="219.89" font-size="8.2" font-weight="normal" font-style="normal" fill="#231f20" textLength="9.92" lengthAdjust="spacingAndGlyphs">60</text>
<text x="207.41" y="200.27" font-size="8.2" font-weight="normal" font-style="normal" fill="#231f20" textLength="9.90" lengthAdjust="spacingAndGlyphs">80</text>
<text x="220.71" y="288.70" font-size="8.2" font-weight="normal" font-style="normal" fill="#231f20" textLength="5.54" lengthAdjust="spacingAndGlyphs">0</text>
<text x="248.07" y="288.70" font-size="8.2" font-weight="normal" font-style="normal" fill="#231f20" textLength="9.72" lengthAdjust="spacingAndGlyphs">20</text>
<text x="277.60" y="288.70" font-size="8.2" font-weight="normal" font-style="normal" fill="#231f20" textLength="10.06" lengthAdjust="spacingAndGlyphs">40</text>
<text x="306.96" y="288.70" font-size="8.2" font-weight="normal" font-style="normal" fill="#231f20" textLength="9.93" lengthAdjust="spacingAndGlyphs">60</text>
<text x="336.40" y="288.70" font-size="8.2" font-weight="normal" font-style="normal" fill="#231f20" textLength="10.12" lengthAdjust="spacingAndGlyphs">80</text>
<text x="274.19" y="301.40" font-size="9.6" font-weight="normal" font-style="normal" fill="#231f20" textLength="17.40" lengthAdjust="spacingAndGlyphs">Days</text>
<text x="0" y="0" font-size="10.5" fill="#231f20" textLength="95.90" lengthAdjust="spacingAndGlyphs" transform="matrix(0,-1,1,0,190.00,286.02)">Leukemia burden (GFP+% in</text>
<text x="0" y="0" font-size="10.5" fill="#231f20" textLength="93.06" lengthAdjust="spacingAndGlyphs" transform="matrix(0,-1,1,0,201.10,284.19)">peripheral blood leukocytes)</text>
<line x1="386.40" y1="155.40" x2="396.10" y2="155.40" stroke="#c8102e" stroke-width="1.1"/>
<rect x="389.65" y="153.75" width="3.3" height="3.3" fill="#c8102e"/>
<line x1="386.40" y1="164.50" x2="396.10" y2="164.50" stroke="#1c4f89" stroke-width="1.1"/>
<circle cx="391.30" cy="164.50" r="1.8" fill="#1c4f89"/>
<line x1="386.40" y1="173.90" x2="387.90" y2="173.90" stroke="#c8102e" stroke-width="1.1"/>
<line x1="394.60" y1="173.90" x2="396.10" y2="173.90" stroke="#c8102e" stroke-width="1.1"/>
<rect x="389.65" y="172.25" width="3.3" height="3.3" fill="#c8102e"/>
<line x1="386.40" y1="183.00" x2="387.90" y2="183.00" stroke="#1c4f89" stroke-width="1.1"/>
<line x1="394.60" y1="183.00" x2="396.10" y2="183.00" stroke="#1c4f89" stroke-width="1.1"/>
<circle cx="391.30" cy="183.00" r="1.8" fill="#1c4f89"/>
<path d="M476.2,153.9 H479.1 V165.7 H476.2" fill="none" stroke="#231f20" stroke-width="0.8"/>
<path d="M465.8,172.2 H468.6 V184.0 H465.8" fill="none" stroke="#231f20" stroke-width="0.8"/>
<path d="M405.5,197.80 V226.8 H406.6 V246.6 H407.7 V256.4 H410.5 V266.4 H412.3 V276.1" fill="none" stroke="#c8102e" stroke-width="1.2" stroke-dasharray="2.0,1.3"/>
<path d="M404.6,228.0 V258.6 H406.6 V276.1" fill="none" stroke="#1c4f89" stroke-width="1.0" stroke-dasharray="1.5,1.3"/>
<path d="M431.6,197.80 V213.0 H436.1 V221.0 H442.2 V228.2 H447.0 V236.8 H464.0 V244.4 H475.2 V252.3 H497.5" fill="none" stroke="#1c4f89" stroke-width="1.1"/>
<line x1="385.40" y1="197.20" x2="497.50" y2="197.20" stroke="#c8102e" stroke-width="1.2"/>
<circle cx="431.60" cy="204.60" r="1.75" fill="#1c4f89"/>
<circle cx="432.50" cy="213.00" r="1.75" fill="#1c4f89"/>
<circle cx="436.10" cy="221.00" r="1.75" fill="#1c4f89"/>
<circle cx="442.20" cy="228.20" r="1.75" fill="#1c4f89"/>
<circle cx="447.00" cy="236.80" r="1.75" fill="#1c4f89"/>
<circle cx="464.00" cy="244.40" r="1.75" fill="#1c4f89"/>
<circle cx="475.20" cy="252.30" r="1.75" fill="#1c4f89"/>
<circle cx="497.50" cy="252.30" r="1.75" fill="#1c4f89"/>
<rect x="496.20" y="195.80" width="2.8" height="2.8" fill="#c8102e"/>
<rect x="402.75" y="225.25" width="3.1" height="3.1" fill="#c8102e"/>
<rect x="405.05" y="245.05" width="3.1" height="3.1" fill="#c8102e"/>
<rect x="406.15" y="254.85" width="3.1" height="3.1" fill="#c8102e"/>
<rect x="408.95" y="264.85" width="3.1" height="3.1" fill="#c8102e"/>
<rect x="410.75" y="274.55" width="3.1" height="3.1" fill="#c8102e"/>
<circle cx="404.30" cy="258.60" r="1.75" fill="#1c4f89"/>
<circle cx="406.60" cy="276.10" r="1.75" fill="#1c4f89"/>
<line x1="385.50" y1="193.30" x2="385.50" y2="276.70" stroke="#231f20" stroke-width="1.1"/>
<line x1="385.00" y1="276.10" x2="501.00" y2="276.10" stroke="#231f20" stroke-width="1.1"/>
<line x1="382.20" y1="276.10" x2="385.50" y2="276.10" stroke="#231f20" stroke-width="0.9"/>
<line x1="382.20" y1="236.65" x2="385.50" y2="236.65" stroke="#231f20" stroke-width="0.9"/>
<line x1="382.20" y1="197.20" x2="385.50" y2="197.20" stroke="#231f20" stroke-width="0.9"/>
<line x1="385.40" y1="276.10" x2="385.40" y2="279.00" stroke="#231f20" stroke-width="0.9"/>
<line x1="407.82" y1="276.10" x2="407.82" y2="279.00" stroke="#231f20" stroke-width="0.9"/>
<line x1="430.24" y1="276.10" x2="430.24" y2="279.00" stroke="#231f20" stroke-width="0.9"/>
<line x1="452.66" y1="276.10" x2="452.66" y2="279.00" stroke="#231f20" stroke-width="0.9"/>
<line x1="475.08" y1="276.10" x2="475.08" y2="279.00" stroke="#231f20" stroke-width="0.9"/>
<line x1="497.50" y1="276.10" x2="497.50" y2="279.00" stroke="#231f20" stroke-width="0.9"/>
<text x="352.14" y="158.00" font-size="10.8" font-weight="bold" font-style="normal" fill="#231f20" textLength="6.91" lengthAdjust="spacingAndGlyphs">F</text>
<text x="397.74" y="158.00" font-size="8.3" font-weight="normal" font-style="normal" fill="#231f20" textLength="77.62" lengthAdjust="spacingAndGlyphs">IL 12-dasatinib (n = 10)</text>
<text x="398.15" y="167.10" font-size="8.3" font-weight="normal" font-style="normal" fill="#231f20" textLength="70.05" lengthAdjust="spacingAndGlyphs">PBS-dasatinib (n = 9)</text>
<text x="397.12" y="176.50" font-size="8.3" font-weight="normal" font-style="normal" fill="#231f20" textLength="66.98" lengthAdjust="spacingAndGlyphs">IL 12-vehicle (n = 8)</text>
<text x="398.04" y="185.60" font-size="8.3" font-weight="normal" font-style="normal" fill="#231f20" textLength="63.96" lengthAdjust="spacingAndGlyphs">PBS-vehicle (n = 9)</text>
<text x="481.91" y="161.90" font-size="6.3" font-weight="normal" font-style="normal" fill="#231f20" textLength="32.29" lengthAdjust="spacingAndGlyphs">p = 0.0011</text>
<text x="471.61" y="179.20" font-size="6.3" font-weight="normal" font-style="normal" fill="#231f20" textLength="31.62" lengthAdjust="spacingAndGlyphs">p = 0.0363</text>
<text x="374.80" y="278.95" font-size="8.2" font-weight="normal" font-style="normal" fill="#231f20" textLength="5.20" lengthAdjust="spacingAndGlyphs">0</text>
<text x="369.22" y="239.50" font-size="8.2" font-weight="normal" font-style="normal" fill="#231f20" textLength="10.43" lengthAdjust="spacingAndGlyphs">50</text>
<text x="366.12" y="200.05" font-size="8.2" font-weight="normal" font-style="normal" fill="#231f20" textLength="13.65" lengthAdjust="spacingAndGlyphs">100</text>
<text x="382.96" y="289.00" font-size="8.2" font-weight="normal" font-style="normal" fill="#231f20" textLength="4.70" lengthAdjust="spacingAndGlyphs">0</text>
<text x="402.76" y="289.00" font-size="8.2" font-weight="normal" font-style="normal" fill="#231f20" textLength="10.01" lengthAdjust="spacingAndGlyphs">20</text>
<text x="424.93" y="289.00" font-size="8.2" font-weight="normal" font-style="normal" fill="#231f20" textLength="9.96" lengthAdjust="spacingAndGlyphs">40</text>
<text x="447.62" y="289.00" font-size="8.2" font-weight="normal" font-style="normal" fill="#231f20" textLength="9.96" lengthAdjust="spacingAndGlyphs">60</text>
<text x="470.13" y="289.00" font-size="8.2" font-weight="normal" font-style="normal" fill="#231f20" textLength="9.58" lengthAdjust="spacingAndGlyphs">80</text>
<text x="490.50" y="289.00" font-size="8.2" font-weight="normal" font-style="normal" fill="#231f20" textLength="13.45" lengthAdjust="spacingAndGlyphs">100</text>
<text x="434.64" y="301.60" font-size="9.6" font-weight="normal" font-style="normal" fill="#231f20" textLength="16.37" lengthAdjust="spacingAndGlyphs">Days</text>
<text x="0" y="0" font-size="10.5" fill="#231f20" textLength="65.20" lengthAdjust="spacingAndGlyphs" transform="matrix(0,-1,1,0,359.40,269.18)">Overall survival (%)</text>
<rect x="0.5" y="0.5" width="519" height="307" fill="none" stroke="#000" stroke-width="1.2"/>
</svg>
</body></html>
